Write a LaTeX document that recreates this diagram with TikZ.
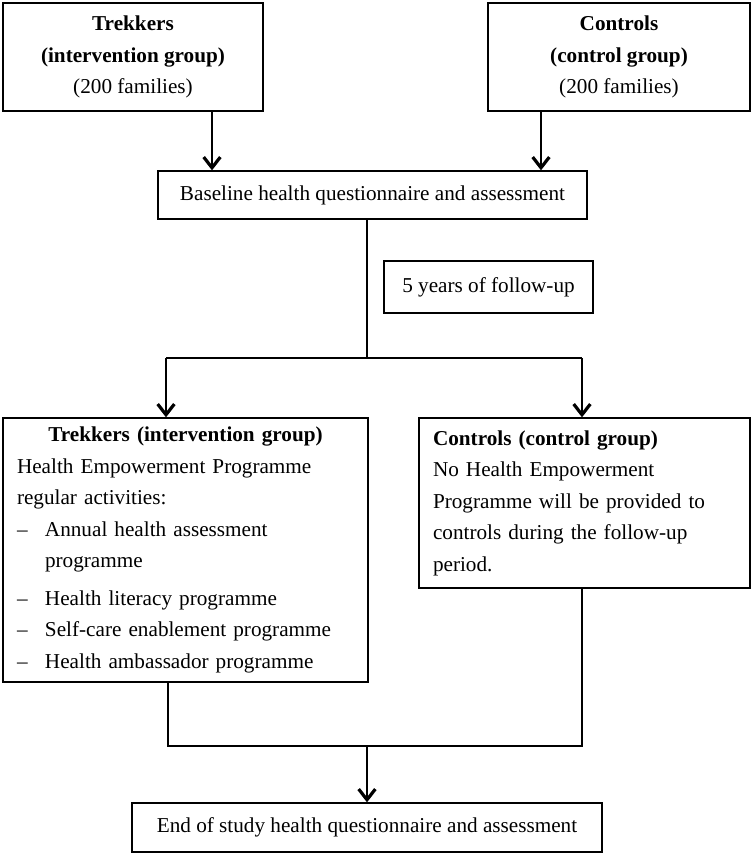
\documentclass[tikz,border=0pt]{standalone}
\usepackage{fontspec}
\setmainfont{Liberation Serif}
\usetikzlibrary{arrows.meta}

\newcommand{\hepitem}[1]{\par\hangindent=21pt\hangafter=1\noindent\makebox[21pt][l]{--}#1}

\tikzset{
  box/.style={draw, line width=1pt, inner sep=0pt, font=\fontsize{15.9}{23.6}\selectfont},
  link/.style={line width=1pt},
  arr/.style={line width=1pt, -{Straight Barb[length=8pt,width=12.5pt,line width=2.4pt]}},
}

\begin{document}
\begin{tikzpicture}[x=0.75pt,y=0.75pt,yscale=-1,xscale=1]
      \useasboundingbox (0,0) rectangle (752,854);

      % Top boxes
      \node[box, minimum width=195pt, minimum height=81pt, align=center] (trekTop) at (133,57)
        {\bfseries Trekkers\\ \bfseries (intervention group)\\ \mdseries (200 families)};
      \node[box, minimum width=196.5pt, minimum height=81pt, align=center] (ctrlTop) at (619,57)
        {\bfseries Controls\\ \bfseries (control group)\\ \mdseries (200 families)};

      % Baseline
      \node[box, minimum width=321.75pt, minimum height=36pt] (base) at (372.5,195)
        {Baseline health questionnaire and assessment};

      % Follow-up label
      \node[box, minimum width=156.75pt, minimum height=39pt] (fup) at (488.5,287)
        {5 years of follow-up};

      % Trekkers arm
      \node[box, minimum width=273.75pt, minimum height=198pt, text width=252.75pt] (trekBox) at (185.5,550)
        {\parindent=0pt\raggedright
         {\centering\bfseries Trekkers (intervention group)\par}
         Health Empowerment Programme\\ regular activities:
         \hepitem{Annual health assessment\newline programme}
         \par\vspace{4.5pt}
         \hepitem{Health literacy programme}
         \hepitem{Self-care enablement programme}
         \hepitem{Health ambassador programme}\par};

      % Controls arm
      \node[box, minimum width=248.25pt, minimum height=127.5pt, text width=227.25pt] (ctrlBox) at (584.5,503)
        {\parindent=0pt\raggedright
         {\bfseries Controls (control group)}\\
         No Health Empowerment\\
         Programme will be provided to\\
         controls during the follow-up\\
         period.\par};

      % End of study
      \node[box, minimum width=352.5pt, minimum height=36.75pt] (endBox) at (367,827.5)
        {End of study health questionnaire and assessment};

      % Junction points
      \coordinate (split) at (367,358);
      \coordinate (splitL) at (166,358);
      \coordinate (splitR) at (582,358);
      \coordinate (joinL) at (168,746);
      \coordinate (joinR) at (582,746);
      \coordinate (join) at (367,746);

      % Connectors
      \draw[arr] ([xshift=59.25pt]trekTop.south) -- ([xshift=59.25pt]trekTop.south |- base.north);
      \draw[arr] ([xshift=-58.5pt]ctrlTop.south) -- ([xshift=-58.5pt]ctrlTop.south |- base.north);
      \draw[link] (split |- base.south) -- (split);
      \draw[link] (splitL) -- (splitR);
      \draw[arr] (splitL) -- (splitL |- trekBox.north);
      \draw[arr] (splitR) -- (splitR |- ctrlBox.north);
      \draw[link] (joinL |- trekBox.south) -- (joinL) -- (joinR) -- (joinR |- ctrlBox.south);
      \draw[arr] (join) -- (join |- endBox.north);
\end{tikzpicture}
\end{document}
